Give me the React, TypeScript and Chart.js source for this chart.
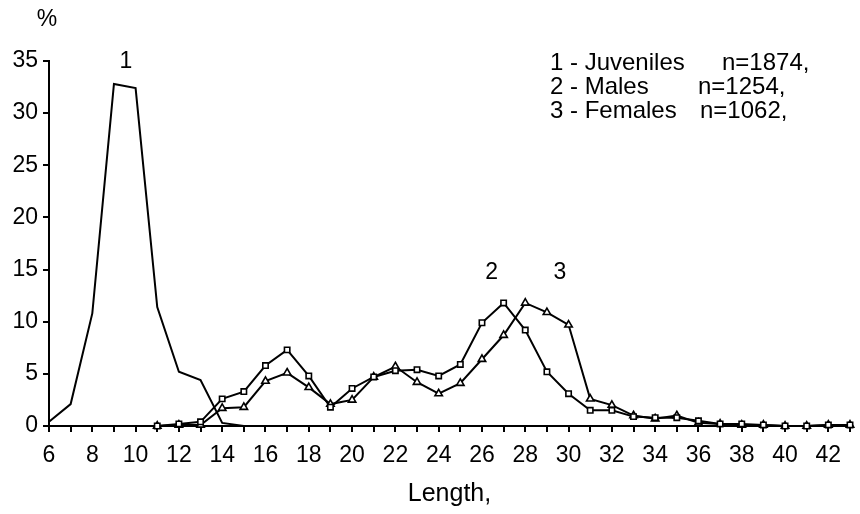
import React, { useEffect, useRef } from 'react';
import { Chart, registerables } from 'chart.js';

Chart.register(...registerables);

// Length-frequency distributions (% of each group by length class)
const juvenileLengths = [6, 7, 8, 9, 10, 11, 12, 13, 14, 15];
const juvenileShare = [0.4, 2.1, 10.8, 32.8, 32.4, 11.4, 5.2, 4.4, 0.3, 0];

const adultLengths = [
  11, 12, 13, 14, 15, 16, 17, 18, 19, 20, 21, 22, 23, 24, 25, 26, 27,
  28, 29, 30, 31, 32, 33, 34, 35, 36, 37, 38, 39, 40, 41, 42, 43,
];
const maleShare = [
  0, 0.2, 0.4, 2.6, 3.3, 5.8, 7.3, 4.8, 1.8, 3.6, 4.7, 5.3, 5.4, 4.8, 5.9, 9.9, 11.8,
  9.2, 5.2, 3.1, 1.5, 1.5, 0.9, 0.8, 0.8, 0.5, 0.2, 0.2, 0.1, 0, 0, 0.1, 0.1,
];
const femaleShare = [
  0, 0.1, 0.1, 1.7, 1.8, 4.3, 5.1, 3.7, 2.1, 2.5, 4.7, 5.7, 4.2, 3.1, 4.1, 6.4, 8.7,
  11.8, 10.9, 9.7, 2.6, 2.0, 1.0, 0.7, 1.0, 0.3, 0.2, 0.1, 0.1, 0, 0, 0.1, 0.1,
];

const xMin = 6;
const xMax = 43;
const yMin = 0;
const yMax = 35;

const curveNumbers = ['1', '2', '3'];
const curveNumberX = [9.55, 26.45, 29.6];
const curveNumberY = [34.9, 14.7, 14.7];

const groupNames = ['1 - Juveniles', '2 - Males', '3 - Females'];
const groupCounts = ['n=1874,', 'n=1254,', 'n=1062,'];

const FONT = '"Liberation Sans", Arial, Helvetica, sans-serif';

const pairs = (xs: number[], ys: number[]) => xs.map((x, i) => ({ x, y: ys[i] }));

const textPlugin = {
  id: 'chartText',
  afterDraw(chart: Chart) {
    const { ctx, chartArea, scales } = chart;
    const xs = scales.x;
    const ys = scales.y;
    ctx.save();
    ctx.fillStyle = '#000';
    ctx.font = `23px ${FONT}`;
    ctx.textBaseline = 'middle';

    // unit of the value axis
    ctx.textAlign = 'center';
    ctx.fillText('%', chartArea.left - 2, chartArea.top - 41);

    // curve numbers
    curveNumbers.forEach((t, i) => {
      ctx.fillText(t, xs.getPixelForValue(curveNumberX[i]), ys.getPixelForValue(curveNumberY[i]));
    });

    // group key with sample sizes
    ctx.font = `24px ${FONT}`;
    ctx.textAlign = 'left';
    const nameX = chartArea.left + 501;
    const countX = [chartArea.left + 673, chartArea.left + 649, chartArea.left + 651];
    groupNames.forEach((name, i) => {
      const y = chartArea.top + 2 + i * 24;
      ctx.fillText(name, nameX, y);
      ctx.fillText(groupCounts[i], countX[i], y);
    });
    ctx.restore();
  },
};

export default function App() {
  const canvasRef = useRef<HTMLCanvasElement | null>(null);

  useEffect(() => {
    const canvas = canvasRef.current;
    if (!canvas) return;
    const chart = new Chart(canvas, {
      type: 'line',
      data: {
        datasets: [
          {
            label: 'Juveniles',
            data: pairs(juvenileLengths, juvenileShare),
            borderColor: '#000',
            borderWidth: 2,
            pointRadius: 0,
            tension: 0,
            clip: false,
          },
          {
            label: 'Males',
            data: pairs(adultLengths, maleShare),
            borderColor: '#000',
            borderWidth: 2,
            pointStyle: 'rect',
            pointRadius: 3.8,
            pointBackgroundColor: '#fff',
            pointBorderColor: '#000',
            pointBorderWidth: 1.6,
            tension: 0,
            clip: false,
          },
          {
            label: 'Females',
            data: pairs(adultLengths, femaleShare),
            borderColor: '#000',
            borderWidth: 2,
            pointStyle: 'triangle',
            pointRadius: 4.3,
            pointBackgroundColor: '#fff',
            pointBorderColor: '#000',
            pointBorderWidth: 1.6,
            tension: 0,
            clip: false,
          },
        ],
      },
      options: {
        responsive: false,
        animation: false,
        layout: { padding: { left: 0, top: 61, right: 1, bottom: 0 } },
        plugins: {
          legend: { display: false },
          tooltip: { enabled: false },
        },
        scales: {
          x: {
            type: 'linear',
            min: xMin,
            max: xMax,
            afterFit: (scale: any) => {
              scale.height = 88;
            },
            border: { display: true, color: '#000', width: 2 },
            grid: {
              drawOnChartArea: false,
              drawTicks: true,
              tickLength: 6,
              color: '#000',
              lineWidth: 2,
            },
            ticks: {
              stepSize: 1,
              autoSkip: false,
              maxRotation: 0,
              color: '#000',
              padding: 10,
              font: { family: FONT, size: 23 },
              callback: (v: any) => (Number(v) % 2 === 0 && Number(v) <= 42 ? String(v) : ''),
            },
            title: {
              display: true,
              text: 'Length,',
              color: '#000',
              font: { family: FONT, size: 25 },
              padding: { top: 0, bottom: 5 },
            },
          },
          y: {
            min: yMin,
            max: yMax,
            afterFit: (scale: any) => {
              scale.width = 49;
            },
            border: { display: true, color: '#000', width: 2 },
            grid: {
              drawOnChartArea: false,
              drawTicks: true,
              tickLength: 6,
              color: '#000',
              lineWidth: 2,
            },
            ticks: {
              stepSize: 5,
              color: '#000',
              padding: 5,
              font: { family: FONT, size: 23 },
            },
          },
        },
      },
      plugins: [textPlugin],
    });
    return () => chart.destroy();
  }, []);

  return (
    <div style={{ position: 'fixed', left: 0, top: 0, width: 860, height: 514, background: '#fff' }}>
      <canvas ref={canvasRef} width={860} height={514} />
    </div>
  );
}
